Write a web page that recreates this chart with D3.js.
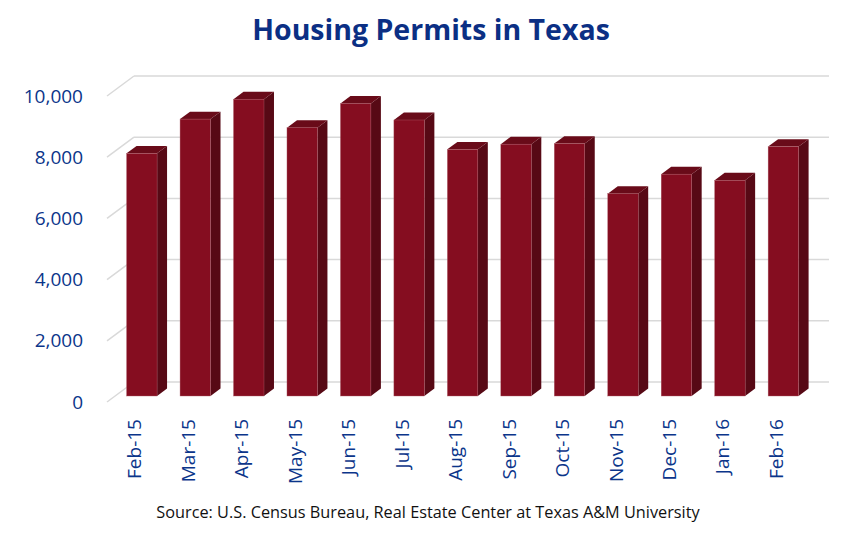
<!DOCTYPE html>
<html>
<head>
<meta charset="utf-8">
<script src="https://cdn.jsdelivr.net/npm/d3@7"></script>
<style>
  body { margin: 0; background: #fff; }
  svg { display: block; font-family: "Open Sans", sans-serif; }
</style>
</head>
<body>
<svg id="chart" width="865" height="542"></svg>
<script>
// chart data
var months = ['Feb-15','Mar-15','Apr-15','May-15','Jun-15','Jul-15','Aug-15',
              'Sep-15','Oct-15','Nov-15','Dec-15','Jan-16','Feb-16'];
var permits = [7930, 9050, 9700, 8770, 9560, 9020, 8060, 8230, 8250, 6610, 7250, 7050, 8150];
var yTicks = [0, 2000, 4000, 6000, 8000, 10000];

var svg = d3.select('#chart');

// fake 3d: full depth of the plot box and where the bars sit inside it
var depth = { dx: 27, dy: -20 };
var barFront = 0.3, barDepth = 0.37;

var x = d3.scaleBand()
	.domain(months)
	.range([107, 802])
	.paddingInner(0.43)
	.paddingOuter(0.215);

var y = d3.scaleLinear()
	.domain([0, 10000])
	.range([402, 96]);

// back wall grid lines + the little diagonals on the left floor edge
var grid = svg.append('g').attr('stroke', '#d9d9d9').attr('stroke-width', 1.5).attr('fill', 'none');
grid.selectAll('.back')
	.data(yTicks)
	.enter().append('line')
	.attr('x1', 107 + depth.dx)
	.attr('x2', 802 + depth.dx)
	.attr('y1', function(d){ return y(d) + depth.dy; })
	.attr('y2', function(d){ return y(d) + depth.dy; });
grid.selectAll('.side')
	.data(yTicks)
	.enter().append('line')
	.attr('x1', 107)
	.attr('x2', 107 + depth.dx)
	.attr('y1', function(d){ return y(d); })
	.attr('y2', function(d){ return y(d) + depth.dy; });

// bars
var fx = depth.dx * barFront, fy = depth.dy * barFront;
var bx = depth.dx * barDepth, by = depth.dy * barDepth;

var bars = svg.append('g').selectAll('.bar')
	.data(months.map(function(m, i){ return { month: m, value: permits[i] }; }))
	.enter().append('g').attr('class', 'bar');

function pts(arr){ return arr.map(function(p){ return p.join(','); }).join(' '); }

bars.append('polygon') // side
	.attr('fill', '#570915')
	.attr('points', function(d){
		var r = x(d.month) + x.bandwidth() + fx, t = y(d.value) + fy, b = y(0) + fy;
		return pts([[r, t], [r + bx, t + by], [r + bx, b + by], [r, b]]);
	});
bars.append('polygon') // top
	.attr('fill', '#690b19')
	.attr('points', function(d){
		var l = x(d.month) + fx, r = l + x.bandwidth(), t = y(d.value) + fy;
		return pts([[l, t], [r, t], [r + bx, t + by], [l + bx, t + by]]);
	});
bars.append('rect') // front
	.attr('fill', '#850d20')
	.attr('stroke', '#b0606c')
	.attr('stroke-width', 0.4)
	.attr('x', function(d){ return x(d.month) + fx; })
	.attr('y', function(d){ return y(d.value) + fy; })
	.attr('width', x.bandwidth())
	.attr('height', function(d){ return y(0) - y(d.value); });

// axes
var labelColor = '#0b358a';

var yAxis = svg.append('g')
	.attr('transform', 'translate(86,0)')
	.call(d3.axisLeft(y).tickValues(yTicks).tickFormat(d3.format(',')).tickSize(0).tickPadding(3));
yAxis.select('.domain').remove();
yAxis.selectAll('text')
	.attr('fill', labelColor)
	.style('font-family', '"Open Sans", sans-serif')
	.style('font-size', '19px');

var xAxis = svg.append('g')
	.attr('transform', 'translate(1,402)')
	.call(d3.axisBottom(x).tickSize(0).tickPadding(0));
xAxis.select('.domain').remove();
xAxis.selectAll('text')
	.attr('fill', labelColor)
	.style('font-family', '"Open Sans", sans-serif')
	.style('font-size', '19px')
	.style('text-anchor', 'end')
	.attr('transform', 'rotate(-90)')
	.attr('x', -17)
	.attr('y', 0)
	.attr('dy', '0.35em');

// title + source
svg.append('text')
	.attr('x', 431)
	.attr('y', 40)
	.attr('text-anchor', 'middle')
	.attr('fill', '#0b2f84')
	.style('font-size', '28.5px')
	.style('font-weight', 'bold')
	.text('Housing Permits in Texas');

svg.append('text')
	.attr('x', 428)
	.attr('y', 518)
	.attr('text-anchor', 'middle')
	.attr('fill', '#111')
	.style('font-size', '16.3px')
	.text('Source: U.S. Census Bureau, Real Estate Center at Texas A&M University');
</script>
</body>
</html>
